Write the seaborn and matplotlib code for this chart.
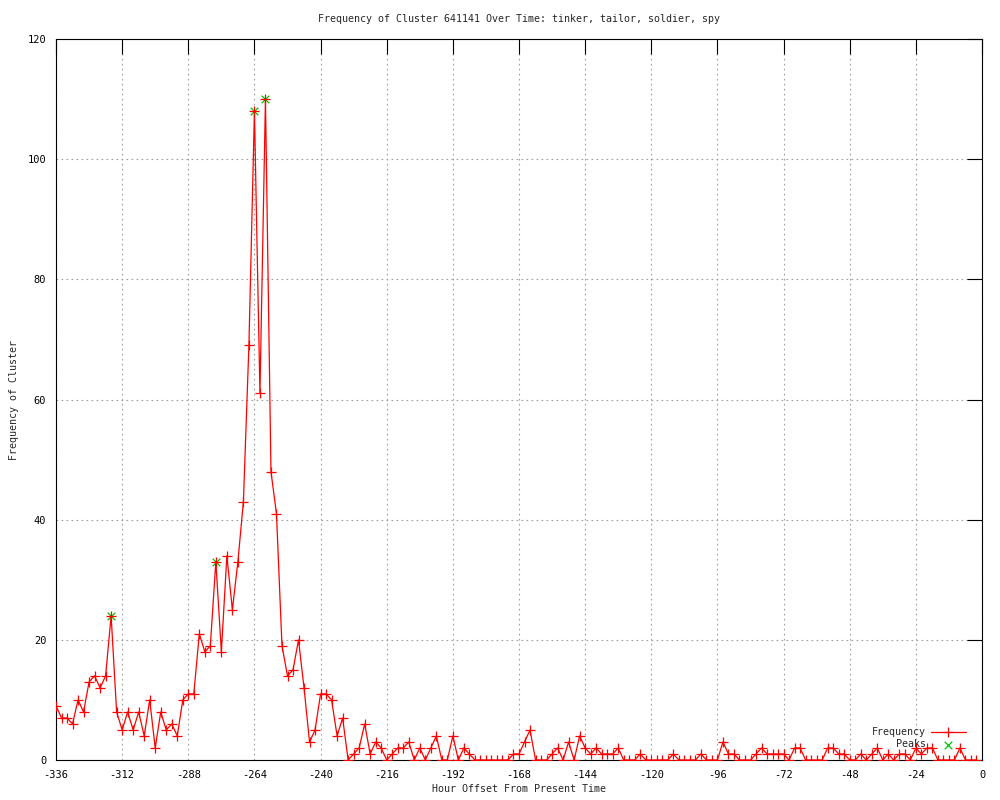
import numpy as np
import pandas as pd
import matplotlib
matplotlib.use("Agg")
import matplotlib.pyplot as plt
import seaborn as sns

# hour offsets, one reading every 2 hours
hours = np.arange(-336, 0, 2)

freq = [9, 7, 7, 6, 10, 8, 13, 14, 12, 14,
        24, 8, 5, 8, 5, 8, 4, 10, 2, 8,
        5, 6, 4, 10, 11, 11, 21, 18, 19, 33,
        18, 34, 25, 33, 43, 69, 108, 61, 110, 48,
        41, 19, 14, 15, 20, 12, 3, 5, 11, 11,
        10, 4, 7, 0, 1, 2, 6, 1, 3, 2,
        0, 1, 2, 2, 3, 0, 2, 0, 2, 4,
        0, 0, 4, 0, 2, 1, 0, 0, 0, 0,
        0, 0, 0, 1, 1, 3, 5, 0, 0, 0,
        1, 2, 0, 3, 0, 4, 2, 1, 2, 1,
        1, 1, 2, 0, 0, 0, 1, 0, 0, 0,
        0, 0, 1, 0, 0, 0, 0, 1, 0, 0,
        0, 3, 1, 1, 0, 0, 0, 1, 2, 1,
        1, 1, 1, 0, 2, 2, 0, 0, 0, 0,
        2, 2, 1, 1, 0, 0, 1, 0, 1, 2,
        0, 1, 0, 1, 1, 0, 2, 1, 2, 2,
        0, 0, 0, 0, 2, 0, 0, 0]

peak_hours = [-316, -278, -264, -260]
peak_vals = [24, 33, 108, 110]

x_ticks = list(range(-336, 1, 24))
y_ticks = list(range(0, 121, 20))

df = pd.DataFrame({"hour": hours, "freq": freq})
peaks = pd.DataFrame({"hour": peak_hours, "freq": peak_vals})

sns.set_theme(style="white")
plt.rcParams["font.family"] = ["DejaVu Sans Mono"]
plt.rcParams["font.size"] = 7
plt.rcParams["axes.unicode_minus"] = False

fig = plt.figure(figsize=(10, 8), dpi=100)
ax = fig.add_axes([0.056, 0.05, 0.926, 0.90125])

ax.grid(True, color="#a0a0a0", linestyle=(0, (1.5, 3)), linewidth=0.8)
ax.set_axisbelow(True)

sns.lineplot(data=df, x="hour", y="freq", ax=ax, color="#ff0000",
             linewidth=0.9, marker="+", markersize=7, markeredgewidth=0.9,
             markeredgecolor="#ff0000", label="Frequency", zorder=3)
sns.scatterplot(data=peaks, x="hour", y="freq", ax=ax, color="#00c000",
                marker="x", s=30, linewidth=0.9, label="Peaks", zorder=2)

ax.set_xlim(-336, 0)
ax.set_ylim(0, 120)
ax.set_xticks(x_ticks)
ax.set_yticks(y_ticks)
ax.tick_params(direction="in", length=11, width=0.8, color="black",
               top=True, right=True, labelsize=7.5, pad=7, labelcolor="black")
for s in ax.spines.values():
    s.set_color("black")
    s.set_linewidth(0.8)

ax.set_title("Frequency of Cluster 641141 Over Time: tinker, tailor, soldier, spy",
             fontsize=7.2, pad=12)
ax.set_xlabel("Hour Offset From Present Time", fontsize=7.2, labelpad=3)
ax.set_ylabel("Frequency of Cluster", fontsize=7.2, labelpad=6)

leg = ax.legend(loc="lower right", frameon=False, markerfirst=False,
                fontsize=7.2, handlelength=3.5, borderaxespad=0.3,
                labelspacing=0.2, handletextpad=0.5, bbox_to_anchor=(0.99, 0.005))
for t in leg.get_texts():
    t.set_ha("right")

fig.savefig("out.png", dpi=100)
